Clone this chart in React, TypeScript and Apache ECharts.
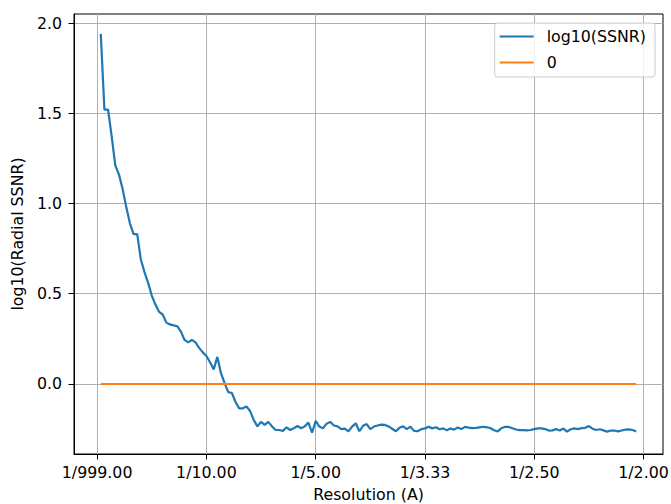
import React, { useEffect, useRef } from "react";
import * as echarts from "echarts";

const seriesNames = ["log10(SSNR)", "0"];

// log10 of radial SSNR, one value per radial sample (sample 1 .. 148)
const ssnrLog10 = [
  1.94, 1.52, 1.52, 1.37, 1.21, 1.16, 1.08, 0.98, 0.89, 0.83, 0.83, 0.69,
  0.62, 0.56, 0.49, 0.44, 0.4, 0.385, 0.34, 0.33, 0.325, 0.32, 0.29, 0.244,
  0.23, 0.244, 0.23, 0.2, 0.175, 0.155, 0.12, 0.08, 0.15, 0.06, 0.005, -0.045,
  -0.05, -0.1, -0.135, -0.135, -0.125, -0.15, -0.2, -0.235, -0.21, -0.227, -0.21, -0.235,
  -0.255, -0.255, -0.26, -0.24, -0.255, -0.245, -0.233, -0.245, -0.235, -0.214, -0.27, -0.205,
  -0.236, -0.246, -0.22, -0.21, -0.23, -0.235, -0.25, -0.247, -0.262, -0.236, -0.218, -0.262,
  -0.232, -0.222, -0.25, -0.236, -0.23, -0.225, -0.227, -0.235, -0.248, -0.262, -0.243, -0.235,
  -0.25, -0.237, -0.26, -0.262, -0.25, -0.246, -0.237, -0.246, -0.24, -0.251, -0.246, -0.257,
  -0.247, -0.253, -0.241, -0.25, -0.238, -0.242, -0.245, -0.243, -0.24, -0.237, -0.24, -0.245,
  -0.256, -0.263, -0.245, -0.237, -0.238, -0.245, -0.252, -0.256, -0.256, -0.257, -0.255, -0.25,
  -0.246, -0.246, -0.25, -0.258, -0.257, -0.25, -0.258, -0.247, -0.264, -0.251, -0.246, -0.25,
  -0.245, -0.243, -0.233, -0.248, -0.255, -0.251, -0.257, -0.264, -0.258, -0.258, -0.263, -0.258,
  -0.253, -0.252, -0.255, -0.263,
];

// the horizontal reference line (value 0) spans the same samples
const zeroLineValue = 0;

const xTickPositions = [0, 30, 60, 90, 120, 150];
const xTickLabels = ["1/999.00", "1/10.00", "1/5.00", "1/3.33", "1/2.50", "1/2.00"];
const yTickValues = [0, 0.5, 1, 1.5, 2];
const yTickLabels = ["0.0", "0.5", "1.0", "1.5", "2.0"];

const FONT = "DejaVu Sans";
const FS = 15.8;

export default function App() {
  const ref = useRef<HTMLDivElement>(null);

  useEffect(() => {
    if (!ref.current) return;
    const chart = echarts.init(ref.current, undefined, { renderer: "svg" });

    const ssnrData = ssnrLog10.map((v, i) => [i + 1, v]);
    const zeroData = [
      [1, zeroLineValue],
      [ssnrLog10.length, zeroLineValue],
    ];

    chart.setOption({
      animation: false,
      backgroundColor: "#ffffff",
      textStyle: { fontFamily: FONT },
      grid: {
        left: 74,
        right: 8,
        top: 14,
        bottom: 50,
        show: true,
        borderColor: "#000000",
        borderWidth: 1,
        backgroundColor: "#ffffff",
        outerBoundsMode: "none",
      },
      legend: {
        data: seriesNames,
        orient: "vertical",
        right: 16,
        top: 23,
        icon: "rect",
        itemWidth: 34,
        itemHeight: 2,
        itemGap: 7,
        padding: [4, 9, 5, 5],
        backgroundColor: "rgba(255,255,255,0.8)",
        borderColor: "#cccccc",
        borderWidth: 1,
        borderRadius: 3,
        textStyle: {
          fontFamily: FONT,
          fontSize: FS,
          color: "#000000",
          lineHeight: 19,
          padding: [0, 0, 0, 8],
        },
      },
      xAxis: {
        type: "value",
        min: -6.35,
        max: 155.35,
        name: "Resolution (A)",
        nameLocation: "middle",
        nameGap: 32,
        nameTextStyle: { fontFamily: FONT, fontSize: FS, color: "#000000" },
        axisLine: { show: true, onZero: false, lineStyle: { color: "#000000", width: 1 } },
        axisTick: {
          show: true,
          inside: false,
          length: 5.5,
          customValues: xTickPositions,
          lineStyle: { color: "#000000", width: 1 },
        },
        axisLabel: {
          show: true,
          margin: 10,
          customValues: xTickPositions,
          fontFamily: FONT,
          fontSize: FS,
          color: "#000000",
          formatter: (v: number) => {
            const k = xTickPositions.indexOf(Math.round(v));
            return k >= 0 ? xTickLabels[k] : "";
          },
        },
        splitLine: { show: true, lineStyle: { color: "#b0b0b0", width: 1 } },
      },
      yAxis: {
        type: "value",
        min: -0.388,
        max: 2.05,
        name: "log10(Radial SSNR)",
        nameLocation: "middle",
        nameGap: 46,
        nameTextStyle: { fontFamily: FONT, fontSize: FS, color: "#000000" },
        axisLine: { show: true, onZero: false, lineStyle: { color: "#000000", width: 1 } },
        axisTick: {
          show: true,
          inside: false,
          length: 5.5,
          customValues: yTickValues,
          lineStyle: { color: "#000000", width: 1 },
        },
        axisLabel: {
          show: true,
          margin: 12,
          customValues: yTickValues,
          fontFamily: FONT,
          fontSize: FS,
          color: "#000000",
          formatter: (v: number) => {
            const k = yTickValues.findIndex((t) => Math.abs(t - v) < 1e-6);
            return k >= 0 ? yTickLabels[k] : "";
          },
        },
        splitLine: { show: true, lineStyle: { color: "#b0b0b0", width: 1 } },
      },
      series: [
        {
          name: seriesNames[0],
          type: "line",
          data: ssnrData,
          symbol: "none",
          color: "#1f77b4",
          lineStyle: { color: "#1f77b4", width: 2.2 },
          z: 3,
        },
        {
          name: seriesNames[1],
          type: "line",
          data: zeroData,
          symbol: "none",
          color: "#ff7f0e",
          lineStyle: { color: "#ff7f0e", width: 2.2 },
          z: 4,
        },
      ],
    });

    return () => chart.dispose();
  }, []);

  return (
    <div
      ref={ref}
      style={{ position: "fixed", left: 0, top: 0, width: 671, height: 504 }}
    />
  );
}
